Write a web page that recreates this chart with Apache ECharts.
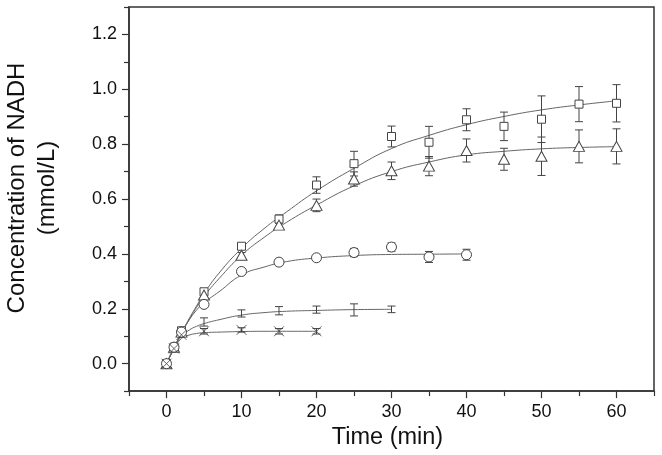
<!DOCTYPE html>
<html><head><meta charset="utf-8">
<script src="https://cdn.jsdelivr.net/npm/echarts@6/dist/echarts.min.js"></script>
<style>html,body{margin:0;padding:0;background:#fff}#c{width:662px;height:455px}</style>
</head><body><div id="c"></div>
<script>
// ---- data ----
const sqT   = [0,1,2,5,10,15,20,25,30,35,40,45,50,55,60];
const sqV   = [0,0.06,0.12,0.262,0.428,0.527,0.651,0.729,0.828,0.807,0.889,0.865,0.891,0.946,0.949];
const sqE   = [0.005,0.005,0.01,0.01,0.01,0.015,0.03,0.045,0.038,0.058,0.04,0.052,0.085,0.064,0.068];

const triT  = [0,1,2,5,10,15,20,25,30,35,40,45,50,55,60];
const triV  = [0,0.06,0.115,0.25,0.395,0.505,0.577,0.673,0.703,0.72,0.777,0.745,0.756,0.792,0.792];
const triE  = [0.005,0.005,0.01,0.01,0.01,0.015,0.023,0.026,0.032,0.035,0.042,0.04,0.07,0.06,0.064];

const cirT  = [0,1,2,5,10,15,20,25,30,35,40];
const cirV  = [0,0.06,0.115,0.216,0.336,0.37,0.386,0.405,0.425,0.389,0.397];
const cirE  = [0.005,0.005,0.01,0.01,0.008,0.012,0.01,0.015,0.015,0.02,0.02];

const plsT  = [0,1,2,5,10,15,20,25,30];
const plsV  = [0,0.058,0.115,0.152,0.183,0.193,0.197,0.196,0.198];
const plsE  = [0.005,0.005,0.01,0.015,0.013,0.015,0.013,0.022,0.012];

const crsT  = [0,1,2,5,10,15,20];
const crsV  = [0,0.055,0.105,0.118,0.123,0.118,0.118];
const crsE  = [0.005,0.005,0.008,0.01,0.008,0.01,0.01];

// fitted curves
const fitT     = [0,1,2,3,4,5,7,10,13,16,20,25,30,35,40,45,50,55,60];
const sqFit    = [0,0.058,0.112,0.163,0.21,0.255,0.33,0.42,0.492,0.553,0.63,0.712,0.784,0.832,0.871,0.901,0.925,0.943,0.958];
const triFit   = [0,0.057,0.11,0.16,0.205,0.245,0.31,0.395,0.46,0.515,0.578,0.648,0.70,0.735,0.761,0.774,0.783,0.788,0.791];
const cirFit   = [0,0.058,0.112,0.158,0.195,0.222,0.262,0.323,0.352,0.372,0.385,0.394,0.398,0.399,0.4];
const plsFit   = [0,0.055,0.1,0.122,0.136,0.146,0.16,0.177,0.186,0.191,0.194,0.197,0.198];
const crsFit   = [0,0.052,0.092,0.104,0.11,0.113,0.115,0.117,0.118,0.118,0.118];

const xMajor = [0,10,20,30,40,50,60];
const xMinor = [-5,5,15,25,35,45,55,65];
const yMajor = [0,0.2,0.4,0.6,0.8,1.0,1.2];
const yMinor = [-0.1,0.1,0.3,0.5,0.7,0.9,1.1,1.3];

const xTitle = 'Time (min)';
const yTitle = 'Concentration of NADH\n(mmol/L)';

// ---- build ----
const INK = '#444';
const LINE = '#666';
const TXT = '#111';
const FONT = 'Liberation Sans, Arial, sans-serif';
const zip = (t, v) => t.map((x, i) => [x, v[i]]);
const zip3 = (t, v, e) => t.map((x, i) => [x, v[i], e[i]]);

function errSeries(t, v, e) {
  return {
    type: 'custom', z: 3,
    data: zip3(t, v, e),
    renderItem: function (params, api) {
      const x = api.value(0), y = api.value(1), er = api.value(2);
      const top = api.coord([x, y + er]);
      const bot = api.coord([x, y - er]);
      const w = 4;
      const st = { stroke: INK, lineWidth: 1, fill: null };
      return { type: 'group', children: [
        { type: 'line', shape: { x1: top[0], y1: top[1], x2: bot[0], y2: bot[1] }, style: st },
        { type: 'line', shape: { x1: top[0]-w, y1: top[1], x2: top[0]+w, y2: top[1] }, style: st },
        { type: 'line', shape: { x1: bot[0]-w, y1: bot[1], x2: bot[0]+w, y2: bot[1] }, style: st }
      ]};
    }
  };
}
function fitSeries(t, v) {
  return { type: 'line', data: zip(t.slice(0, v.length), v), showSymbol: false, symbol: 'none',
    smooth: 0.5, lineStyle: { color: LINE, width: 1 }, z: 2, silent: true };
}
function markSeries(t, v, symbol, size) {
  return { type: 'scatter', data: zip(t, v), symbol: symbol, symbolSize: size, z: 4,
    itemStyle: { color: '#fff', borderColor: INK, borderWidth: 1, opacity: 1 } };
}
function strokeMarks(t, v, symbol, size) {
  return { type: 'scatter', data: zip(t, v), symbol: symbol, symbolSize: size, z: 4,
    itemStyle: { color: 'none', borderColor: INK, borderWidth: 1 } };
}

const axisLineStyle = { show: true, onZero: false, lineStyle: { color: '#333', width: 1.5 } };

const option = {
  backgroundColor: '#fff',
  animation: false,
  grid: { left: 129, right: 8, top: 7, bottom: 62, show: true, borderColor: '#333', borderWidth: 1.5 },
  graphic: [{
    type: 'text', x: 32, y: 188, rotation: Math.PI / 2, silent: true,
    style: { text: yTitle, fontFamily: FONT, fontSize: 24, lineHeight: 30, fill: TXT,
      align: 'center', verticalAlign: 'middle' }
  }],
  xAxis: [
    {
      type: 'value', min: -5, max: 65, position: 'bottom',
      axisLine: axisLineStyle, splitLine: { show: false },
      name: xTitle, nameLocation: 'middle', nameGap: 29,
      nameTextStyle: { fontFamily: FONT, fontSize: 23.5, color: TXT, padding: [0, 8, 0, 0] },
      axisTick: { show: true, inside: false, length: 7, customValues: xMajor, lineStyle: { color: '#333', width: 1.2 } },
      axisLabel: { customValues: xMajor, fontFamily: FONT, fontSize: 18, color: TXT, margin: 12 }
    },
    {
      type: 'value', min: -5, max: 65, position: 'bottom',
      axisLine: { show: false, onZero: false }, splitLine: { show: false },
      axisTick: { show: true, inside: false, length: 5, customValues: xMinor, lineStyle: { color: '#333', width: 1.2 } },
      axisLabel: { show: false }
    }
  ],
  yAxis: [
    {
      type: 'value', min: -0.1, max: 1.3, position: 'left',
      axisLine: axisLineStyle, splitLine: { show: false },
      axisTick: { show: true, inside: false, length: 7, customValues: yMajor, lineStyle: { color: '#333', width: 1.2 } },
      axisLabel: { customValues: yMajor, fontFamily: FONT, fontSize: 18, color: TXT, margin: 12,
        formatter: v => v.toFixed(1) }
    },
    {
      type: 'value', min: -0.1, max: 1.3, position: 'left',
      axisLine: { show: false, onZero: false }, splitLine: { show: false },
      axisTick: { show: true, inside: false, length: 5, customValues: yMinor, lineStyle: { color: '#333', width: 1.2 } },
      axisLabel: { show: false }
    }
  ],
  series: [
    fitSeries(fitT, sqFit), fitSeries(fitT, triFit), fitSeries(fitT, cirFit),
    fitSeries(fitT, plsFit), fitSeries(fitT, crsFit),
    errSeries(sqT, sqV, sqE), errSeries(triT, triV, triE), errSeries(cirT, cirV, cirE),
    errSeries(plsT, plsV, plsE), errSeries(crsT, crsV, crsE),
    markSeries(sqT, sqV, 'rect', 8),
    markSeries(triT, triV, 'triangle', [11, 10]),
    markSeries(cirT, cirV, 'circle', 10),
    strokeMarks(plsT, plsV, 'path://M0,5L10,5', [8, 8]),
    strokeMarks(crsT, crsV, 'path://M0,0L10,10M10,0L0,10', [10, 10])
  ]
};
const chart = echarts.init(document.getElementById('c'), null, { renderer: 'canvas' });
chart.setOption(option);
</script></body></html>
